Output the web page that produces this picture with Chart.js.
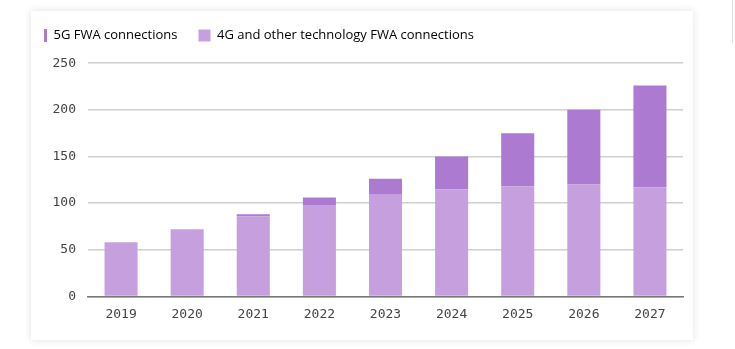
<!DOCTYPE html>
<html>
<head>
<meta charset="utf-8">
<script src="https://cdn.jsdelivr.net/npm/chart.js@4"></script>
<style>
    body { margin: 0; background: #fff; width: 735px; height: 349px; overflow: hidden; position: relative; }
    .card {
        position: absolute; left: 31px; top: 11px; width: 662px; height: 329px;
        background: #fff; box-shadow: 0 0 8px rgba(0, 0, 0, 0.12);
    }
    .edge { position: absolute; left: 732px; top: 0; width: 1px; height: 43px; background: #ddd; }
</style>
</head>
<body>
<div class="card"><canvas id="fwaChart" width="662" height="329"></canvas></div>
<div class="edge"></div>
<script>
// FWA connections (millions)
const years = ['2019', '2020', '2021', '2022', '2023', '2024', '2025', '2026', '2027'];
const fwa4G = [58, 72, 86, 98, 109, 115, 118, 120, 117];
const fwa5G = [0, 0, 2, 8, 17, 35, 57, 80, 109];
const yTicks = [0, 50, 100, 150, 200, 250];

const color4G = '#c6a0de';
const color5G = '#ad7ad2';

// thin bar marker for the 5G legend entry, sits at the right of its box
const barMark = document.createElement('canvas');
barMark.width = 12;
barMark.height = 13;
const bctx = barMark.getContext('2d');
bctx.fillStyle = color5G;
bctx.fillRect(9, 0, 3, 13);

const ctx = document.getElementById('fwaChart').getContext('2d');

new Chart(ctx, {
    type: 'bar',
    data: {
        labels: years,
        datasets: [{
            label: '4G and other technology FWA connections',
            data: fwa4G,
            backgroundColor: color4G,
            barPercentage: 0.5,
            categoryPercentage: 1
        },
        {
            label: '5G FWA connections',
            data: fwa5G,
            backgroundColor: color5G,
            barPercentage: 0.5,
            categoryPercentage: 1
        }]
    },
    options: {
        responsive: false,
        animation: false,
        layout: {
            padding: { left: -17, right: 10, top: -3, bottom: 8 }
        },
        plugins: {
            legend: {
                position: 'top',
                align: 'start',
                labels: {
                    usePointStyle: true,
                    boxWidth: 12,
                    boxHeight: 12,
                    padding: 21,
                    color: '#444',
                    font: { size: 13, family: "'Open Sans', sans-serif" },
                    // 5G first in the legend
                    generateLabels: function(chart) {
                        return [{
                            text: '5G FWA connections',
                            pointStyle: barMark,
                            fillStyle: color5G,
                            strokeStyle: color5G,
                            lineWidth: 0,
                            datasetIndex: 1
                        }, {
                            text: '4G and other technology FWA connections',
                            pointStyle: 'rect',
                            fillStyle: color4G,
                            strokeStyle: color4G,
                            lineWidth: 0,
                            datasetIndex: 0
                        }];
                    }
                }
            },
            // empty spacer between legend and plot
            subtitle: {
                display: true,
                text: '',
                weight: 500,
                font: { size: 1 },
                padding: { top: 0, bottom: 10 }
            },
            tooltip: { enabled: false }
        },
        scales: {
            x: {
                stacked: true,
                grid: { display: false, drawTicks: false },
                border: { color: '#777', width: 1.5 },
                ticks: {
                    color: '#444',
                    padding: 10,
                    font: { size: 13, family: "'DejaVu Sans Mono', monospace" }
                }
            },
            y: {
                stacked: true,
                min: 0,
                max: 250,
                afterBuildTicks: function(axis) {
                    axis.ticks = yTicks.map(v => ({ value: v }));
                },
                afterFit: function(axis) {
                    axis.width = 74;
                },
                grid: { color: '#cfcfcf', lineWidth: 1.5, drawTicks: false },
                border: { display: false },
                ticks: {
                    color: '#444',
                    padding: 12,
                    font: { size: 13, family: "'DejaVu Sans Mono', monospace" }
                }
            }
        }
    }
});
</script>
</body>
</html>
